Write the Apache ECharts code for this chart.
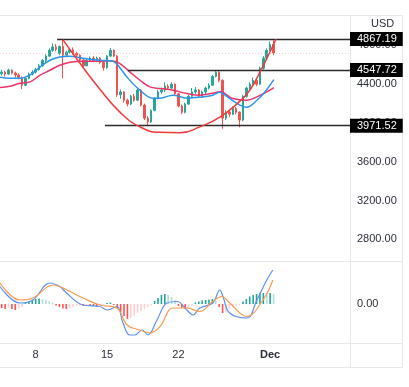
<!DOCTYPE html>
<html><head><meta charset="utf-8">
<script src="https://cdn.jsdelivr.net/npm/echarts@6/dist/echarts.min.js"></script>
<style>html,body{margin:0;padding:0;background:#fff}#c{width:409px;height:387px}</style>
</head><body><div id="c"></div>
<script>
// ---- data (8h candles, [open, close, low, high]) ----
const candles = [
[4510,4525,4490,4550],[4525,4505,4480,4540],[4505,4545,4495,4560],[4545,4515,4500,4555],
[4515,4495,4470,4530],[4495,4470,4450,4510],[4470,4390,4350,4480],[4390,4460,4380,4475],
[4460,4505,4450,4520],[4505,4525,4490,4545],[4525,4550,4510,4570],[4550,4590,4540,4610],
[4590,4645,4580,4660],[4645,4690,4630,4710],[4690,4750,4680,4770],[4750,4785,4735,4820],
[4785,4760,4740,4815],[4720,4790,4700,4800],[4790,4700,4460,4867.19],[4700,4730,4680,4745],
[4730,4755,4715,4770],[4755,4720,4705,4780],[4720,4700,4680,4735],[4700,4650,4630,4710],
[4650,4590,4570,4660],[4590,4645,4585,4660],[4645,4670,4630,4685],[4670,4645,4630,4690],
[4645,4670,4640,4685],[4670,4625,4610,4680],[4625,4570,4540,4635],[4570,4690,4560,4700],
[4690,4750,4680,4775],[4750,4690,4680,4760],[4690,4290,4270,4700],[4290,4320,4250,4345],
[4320,4235,4210,4330],[4235,4195,4170,4250],[4195,4275,4185,4290],[4275,4235,4220,4300],
[4235,4340,4225,4360],[4340,4185,4170,4350],[4185,4050,4030,4200],[4050,4010,3975,4070],
[4010,4130,4000,4140],[4130,4255,4120,4265],[4255,4320,4245,4340],[4320,4340,4300,4365],
[4340,4380,4320,4420],[4380,4360,4340,4400],[4360,4400,4350,4420],[4400,4300,4285,4410],
[4300,4175,4160,4310],[4175,4110,4090,4190],[4110,4195,4100,4210],[4195,4275,4185,4290],
[4275,4320,4260,4360],[4320,4340,4300,4370],[4340,4275,4260,4350],[4275,4320,4265,4335],
[4320,4360,4300,4375],[4360,4390,4345,4410],[4390,4480,4380,4495],[4480,4525,4470,4547.72],
[4525,4440,4420,4535],[4440,4050,3940,4450],[4050,4110,4030,4130],[4110,4090,4060,4140],
[4090,4150,4080,4170],[4150,4110,4090,4165],[4110,4030,3955,4120],[4030,4275,4020,4290],
[4275,4360,4260,4375],[4360,4400,4340,4420],[4400,4440,4380,4470],[4440,4400,4380,4460],
[4400,4565,4390,4580],[4565,4670,4550,4690],[4670,4750,4650,4770],[4750,4810,4740,4840],
[4810,4722,4700,4853]
];
// moving averages: [candle index, price]
const maFast = [[-0.5,4472],[2.4,4462],[5.4,4462],[8.3,4493],[11.3,4578],[14.2,4647],[17.1,4681],[20.1,4688],
[23.9,4668],[28.9,4647],[32.7,4637],[34.2,4596],[36.9,4472],[40.7,4338],[44.5,4256],[46.6,4256],[50.4,4287],
[54.5,4256],[58.3,4266],[62.1,4287],[64.2,4318],[65.7,4287],[70.1,4184],[72.1,4163],[75.1,4235],[77.4,4318],[80.1,4448]];
const maSlow = [[-0.5,4366],[2.4,4379],[5.4,4410],[8.3,4424],[11.3,4493],[14.2,4544],[17.1,4596],[20.1,4627],
[23.9,4637],[28.9,4637],[32.7,4640],[34.8,4613],[37.7,4527],[40.7,4441],[43.6,4372],[46.6,4356],[50.4,4338],
[54.5,4304],[58.3,4287],[62.1,4307],[64.2,4321],[68.0,4253],[72.1,4235],[75.1,4269],[78.0,4321],[80.1,4366]];
// cup drawing: [candle index, price]
const cupCurve = [[18,4860],[23.9,4575],[28.9,4349],[34.8,4112],[40.7,3960],[46.6,3903],[52.4,3898],
[58.3,3960],[64.2,4060],[70.1,4225],[73.0,4338],[76.0,4524],[78.9,4730],[80.7,4864]];
const levelValues = [4867.19, 4547.72, 3971.52];
const levelStartIdx = [16.3, 37.1, 30.4];
const lastPrice = 4722;
// MACD: [candle index, value]
const macdLine = [[-0.5,35],[5.4,2],[9.2,8],[14.2,42],[17.1,35],[18.6,25],[23.9,-2],[28.9,-5],[31,-12],[33.9,-5],
[35.7,-38],[37.7,-62],[39.2,-62],[41.3,-52],[43,-62],[45.7,-32],[48.6,2],[51.6,5],[54.5,-12],[56.3,-22],[58.3,-8],
[62.1,2],[64.2,28],[65.1,15],[67.1,-18],[72.1,-28],[75.1,8],[78,48],[79.8,68]];
const signalLine = [[-0.5,42],[5.4,8],[9.2,12],[15.1,38],[19.2,28],[23.9,12],[28.9,-2],[33.9,-8],[36.9,-42],
[40.7,-52],[43.6,-58],[46.6,-45],[50.4,-8],[54.5,-8],[58.3,-15],[62.1,5],[64.8,15],[67.1,2],[72.1,-25],[76.9,8],[79.8,48]];
const histogram = [-8,-10,-7,-10,-12,-9,-6,
2,5,8,10,11,10,8,6,3,
-3,-6,-9,-10,-8,-6,-4,
-3,-4,-2,-3,-4,-5,-3,-2,2,3,-2,
-8,-16,-24,-30,-28,-24,-18,-14,-10,-6,-3,
6,12,18,20,18,14,8,
-4,-8,-10,-8,-4,
3,5,7,8,9,10,6,
-6,-18,-16,-10,-6,-4,-2,
5,10,15,18,20,22,22,21,22,20];
const dateTickIdx = [10,31,52,79];
const dateTickText = ['8','15','22','Dec'];
const totalSlots = 103;

// ---- categories (8h steps starting Nov 4 16:00) ----
const categories = [];
for (let i = 0; i < totalSlots; i++) {
  const h = 16 + i * 8;
  const day = 4 + Math.floor(h / 24);
  categories.push('Nov ' + day + ' ' + (h % 24) + ':00');
}

const chart = echarts.init(document.getElementById('c'));
const textColor = '#2a2e39';
const border = '#e6e8ee';

const levelMarks = levelValues.map((v, k) => [
  {coord: [levelStartIdx[k], v], lineStyle: {color: '#2b2b2b', width: 1.3, type: 'solid'},
   label: {show: true, position: 'end', distance: 0, formatter: v.toFixed(2), color: '#fff',
           backgroundColor: '#000', padding: [2, 6, 1, 7], fontSize: 11, fontFamily: 'Liberation Sans'}},
  {coord: [totalSlots - 0.5, v]}
]);
levelMarks.push([
  {coord: [-0.5, lastPrice], lineStyle: {color: '#f7a1a8', width: 1, type: [1, 2], opacity: 0.6}, label: {show: false}},
  {coord: [totalSlots - 0.5, lastPrice]}
]);

chart.setOption({
  animation: false,
  backgroundColor: '#fff',
  title: {text: 'USD', left: 366, top: 13, textStyle: {fontSize: 11, fontWeight: 'normal', color: textColor, fontFamily: 'Liberation Sans'}},
  grid: [
    {left: 0, right: 59, top: 6.7, bottom: 109},
    {left: 0, right: 59, top: 262, bottom: 44}
  ],
  xAxis: [
    {type: 'category', gridIndex: 0, data: categories, show: false, boundaryGap: true},
    {type: 'value', gridIndex: 0, min: -0.5, max: totalSlots - 0.5, show: false},
    {type: 'category', gridIndex: 1, data: categories, boundaryGap: true,
     axisLine: {show: false}, axisTick: {show: false}, splitLine: {show: false},
     axisLabel: {
       interval: (idx) => dateTickIdx.includes(idx),
       formatter: (val, idx) => { const k = dateTickIdx.indexOf(idx); return k >= 0 ? (dateTickText[k] === 'Dec' ? '{b|Dec}' : dateTickText[k]) : ''; },
       margin: 6, fontSize: 11, color: textColor, fontFamily: 'Liberation Sans',
       rich: {b: {fontWeight: 'bold', fontSize: 11, color: textColor, fontFamily: 'Liberation Sans'}}
     }},
    {type: 'value', gridIndex: 1, min: -0.5, max: totalSlots - 0.5, show: false}
  ],
  yAxis: [
    {type: 'value', gridIndex: 0, position: 'right', min: 2400, max: 5200, interval: 400, scale: true,
     axisLine: {show: false}, axisTick: {show: false}, splitLine: {show: false},
     axisLabel: {margin: 7, fontSize: 11, color: textColor, fontFamily: 'Liberation Sans',
                 formatter: v => (v === 2400 || v === 5200) ? '' : v.toFixed(2)}},
    {type: 'value', gridIndex: 1, position: 'right', min: -78, max: 84, interval: 78,
     axisLine: {show: false}, axisTick: {show: false}, splitLine: {show: false},
     axisLabel: {margin: 7, fontSize: 11, color: textColor, fontFamily: 'Liberation Sans',
                 formatter: v => v === 0 ? '0.00' : ''}}
  ],
  graphic: [
    {type: 'line', shape: {x1: 0, y1: 15.5, x2: 403, y2: 15.5}, style: {stroke: border, lineWidth: 1}, silent: true},
    {type: 'line', shape: {x1: 0, y1: 261.5, x2: 403, y2: 261.5}, style: {stroke: border, lineWidth: 1}, silent: true},
    {type: 'line', shape: {x1: 0, y1: 343.5, x2: 403, y2: 343.5}, style: {stroke: border, lineWidth: 1}, silent: true},
    {type: 'line', shape: {x1: 0, y1: 367.5, x2: 403, y2: 367.5}, style: {stroke: border, lineWidth: 1}, silent: true},
    {type: 'line', shape: {x1: 350.5, y1: 15, x2: 350.5, y2: 368}, style: {stroke: border, lineWidth: 1}, silent: true},
    {type: 'line', shape: {x1: 402.5, y1: 15, x2: 402.5, y2: 368}, style: {stroke: border, lineWidth: 1}, silent: true}
  ],
  series: [
    {type: 'candlestick', xAxisIndex: 0, yAxisIndex: 0, data: candles, barWidth: 2,
     itemStyle: {color: '#26a69a', color0: '#ef5350', borderColor: '#26a69a', borderColor0: '#ef5350', borderWidth: 1}},
    {type: 'line', xAxisIndex: 1, yAxisIndex: 0, data: maSlow, smooth: 0.4, showSymbol: false,
     lineStyle: {color: '#ec3468', width: 1.5}},
    {type: 'line', xAxisIndex: 1, yAxisIndex: 0, data: maFast, smooth: 0.4, showSymbol: false,
     lineStyle: {color: '#2b94ef', width: 1.5}},
    {type: 'line', xAxisIndex: 1, yAxisIndex: 0, data: cupCurve, smooth: 0.5, showSymbol: false, clip: false,
     lineStyle: {color: '#f23a3a', width: 1.5}, z: 5,
     markLine: {silent: true, symbol: ['none', 'none'], animation: false, data: levelMarks}},
    {type: 'bar', xAxisIndex: 2, yAxisIndex: 1, data: histogram, barWidth: 1.6,
     itemStyle: {color: p => {
       const v = p.value, prev = p.dataIndex > 0 ? histogram[p.dataIndex - 1] : v;
       if (v >= 0) return v >= prev ? '#26a69a' : '#b2dfdb';
       return v <= prev ? '#ff5252' : '#ffcdd2';
     }}},
    {type: 'line', xAxisIndex: 3, yAxisIndex: 1, data: macdLine, smooth: 0.4, showSymbol: false,
     lineStyle: {color: '#5d8ff2', width: 1.2}},
    {type: 'line', xAxisIndex: 3, yAxisIndex: 1, data: signalLine, smooth: 0.4, showSymbol: false,
     lineStyle: {color: '#fb9a4c', width: 1.2}}
  ]
});
</script></body></html>
